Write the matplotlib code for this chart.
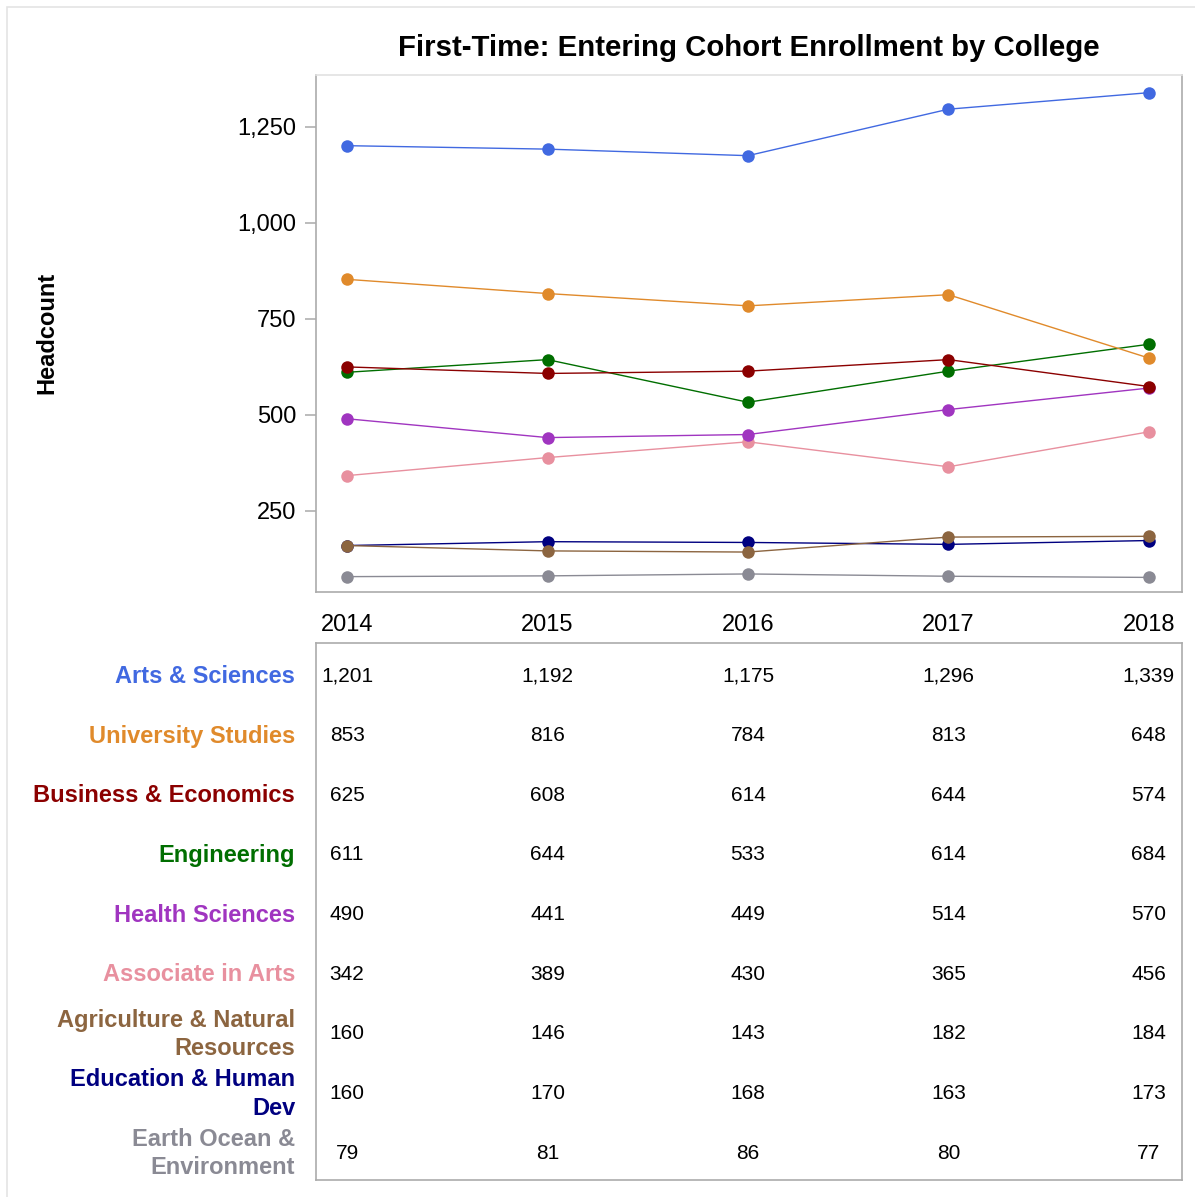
import matplotlib.pyplot as plt
from matplotlib.patches import Rectangle
from matplotlib.ticker import FuncFormatter

plt.rcParams['font.family'] = ['Liberation Sans', 'DejaVu Sans']

years = [2014, 2015, 2016, 2017, 2018]
colleges = ["Arts & Sciences", "University Studies", "Business & Economics",
            "Engineering", "Health Sciences", "Associate in Arts",
            "Agriculture & Natural\nResources", "Education & Human\nDev",
            "Earth Ocean &\nEnvironment"]
arts = [1201, 1192, 1175, 1296, 1339]
univ = [853, 816, 784, 813, 648]
business = [625, 608, 614, 644, 574]
engineering = [611, 644, 533, 614, 684]
health = [490, 441, 449, 514, 570]
associate = [342, 389, 430, 365, 456]
agriculture = [160, 146, 143, 182, 184]
education = [160, 170, 168, 163, 173]
earth = [79, 81, 86, 80, 77]
colors = ["#4169E1", "#E08A2B", "#8B0000", "#006E00", "#A035C0",
          "#E8909F", "#8C6540", "#000080", "#8A8A94"]

series = [arts, univ, business, engineering, health, associate,
          agriculture, education, earth]

fig = plt.figure(figsize=(11.95, 11.97), dpi=100)
W, H = 1195, 1197

# light frame round the whole figure
fig.patches.append(Rectangle((7 / W, -0.01), 1.0, 1 - 7 / H + 0.01,
                             transform=fig.transFigure, fill=False,
                             edgecolor="#E4E4E4", linewidth=1.2))

ax = fig.add_axes([316 / W, 1 - 592 / H, 866 / W, 517 / H])
# draw in reverse so the first series sits on top
for vals, c in reversed(list(zip(series, colors))):
    ax.plot(years, vals, color=c, linewidth=1, marker="o", markersize=9,
            markeredgewidth=0)

ax.set_xlim(2013.845, 2018.165)
ax.set_ylim(39, 1385)
ax.set_yticks([250, 500, 750, 1000, 1250])
ax.yaxis.set_major_formatter(FuncFormatter(lambda v, p: f"{int(v):,}"))
ax.set_xticks(years)
ax.set_xticklabels([str(y) for y in years])
ax.tick_params(axis="y", labelsize=17, length=8, color="#B0B0B0",
               width=1.2, pad=6)
ax.tick_params(axis="x", labelsize=17, length=0, pad=16)
for side in ["left", "right", "bottom"]:
    ax.spines[side].set_color("#ABABAB")
    ax.spines[side].set_linewidth(1.2)
ax.spines["top"].set_color("#E2E2E2")
ax.spines["top"].set_linewidth(1.2)

fig.text(47 / W, 1 - 333 / H, "Headcount", rotation=90, fontsize=17,
         fontweight="bold", ha="center", va="center")
fig.text(749 / W, 1 - 48 / H, "First-Time: Entering Cohort Enrollment by College",
         fontsize=21.2, fontweight="bold", ha="center", va="center")

# data table under the chart
tab = fig.add_axes([316 / W, 1 - 1180 / H, 866 / W, 537 / H])
tab.set_xlim(ax.get_xlim())
tab.set_ylim(len(colleges), 0)
tab.set_xticks([])
tab.set_yticks([])
for s in tab.spines.values():
    s.set_color("#ABABAB")
    s.set_linewidth(1.2)

for i, (name, vals, c) in enumerate(zip(colleges, series, colors)):
    tab.text(-0.024, i + 0.56, name, transform=tab.get_yaxis_transform(),
             ha="right", va="center", fontsize=17, fontweight="bold",
             color=c, linespacing=1.3)
    for y, v in zip(years, vals):
        tab.text(y, i + 0.55, f"{v:,}", ha="center", va="center",
                 fontsize=15)

fig.savefig("out.png", dpi=100)
